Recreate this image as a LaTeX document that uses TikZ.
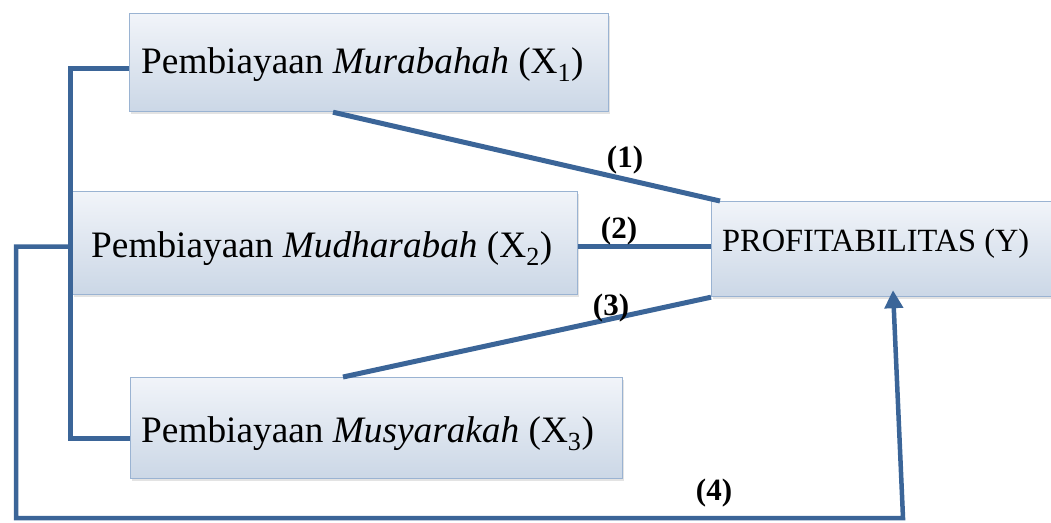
\documentclass[tikz,border=0pt]{standalone}
\usepackage{fontspec}
\setmainfont{Liberation Serif}
\usetikzlibrary{arrows.meta,shadows,calc}
\definecolor{lineblue}{HTML}{3B6598}
\definecolor{boxedge}{HTML}{9AB3D2}
\definecolor{boxtop}{HTML}{F1F4F9}
\definecolor{boxbot}{HTML}{CBD7E6}
\begin{document}
\begin{tikzpicture}[x=1pt,y=1pt,
  box/.style={rectangle, draw=boxedge, line width=1.2pt, top color=boxtop, bottom color=boxbot,
    anchor=north west, inner sep=0pt,
    drop shadow={opacity=0.22, shadow xshift=1.5pt, shadow yshift=-2pt}},
  boxtext/.style={anchor=base west, inner sep=0pt, font=\fontsize{37.3}{40}\selectfont},
  ytext/.style={anchor=base west, inner sep=0pt, font=\fontsize{32.4}{36}\selectfont},
  num/.style={anchor=base, inner sep=0pt, font=\fontsize{31}{34}\selectfont\bfseries},
  conn/.style={draw=lineblue, line width=5pt},
]
\useasboundingbox (0,0) rectangle (1051,-522);
\clip (0,0) rectangle (1051,-522);
% boxes
\node[box, minimum width=479pt, minimum height=98pt] (x1) at (129,-13) {};
\node[box, minimum width=505pt, minimum height=103pt] (x2) at (72,-191) {};
\node[box, minimum width=492pt, minimum height=101pt] (x3) at (130,-377) {};
\node[box, minimum width=350pt, minimum height=95pt] (y) at (711,-201) {};
% texts
\node[boxtext] (t1) at (141,-73) {Pembiayaan \textit{Murabahah} (X\textsubscript{1})};
\node[boxtext] (t2) at (91,-257) {Pembiayaan \textit{Mudharabah} (X\textsubscript{2})};
\node[boxtext] (t3) at (141,-442) {Pembiayaan \textit{Musyarakah} (X\textsubscript{3})};
\node[ytext] (ty) at (722,-251) {PROFITABILITAS (Y)};
% connectors
\draw[conn] ([xshift=204pt]x1.south west) -- ([xshift=9pt]y.north west);
\draw[conn] ([yshift=-3.5pt]x2.east) -- ([yshift=-3.5pt]x2.east -| y.west);
\draw[conn] ([xshift=213pt]x3.north west) -- (y.south west);
\draw[conn] ([yshift=-6pt]x1.west) -| ([xshift=-2pt]x2.west) |- ([yshift=-10pt]x3.west);
\coordinate (bl) at (16,-518);
\coordinate (br) at (903,-518);
\draw[conn, line width=4.5pt, -{Triangle[width=18pt,length=18pt]}]
  ([yshift=-3.5pt]x2.west) -| (bl) -- (br) -- ([xshift=182pt,yshift=7pt]y.south west);
% labels
\node[num] (n1) at (625,-167) {(1)};
\node[num] (n2) at (619,-238) {(2)};
\node[num] (n3) at (611,-315) {(3)};
\node[num] (n4) at (714,-500) {(4)};
\end{tikzpicture}
\end{document}
